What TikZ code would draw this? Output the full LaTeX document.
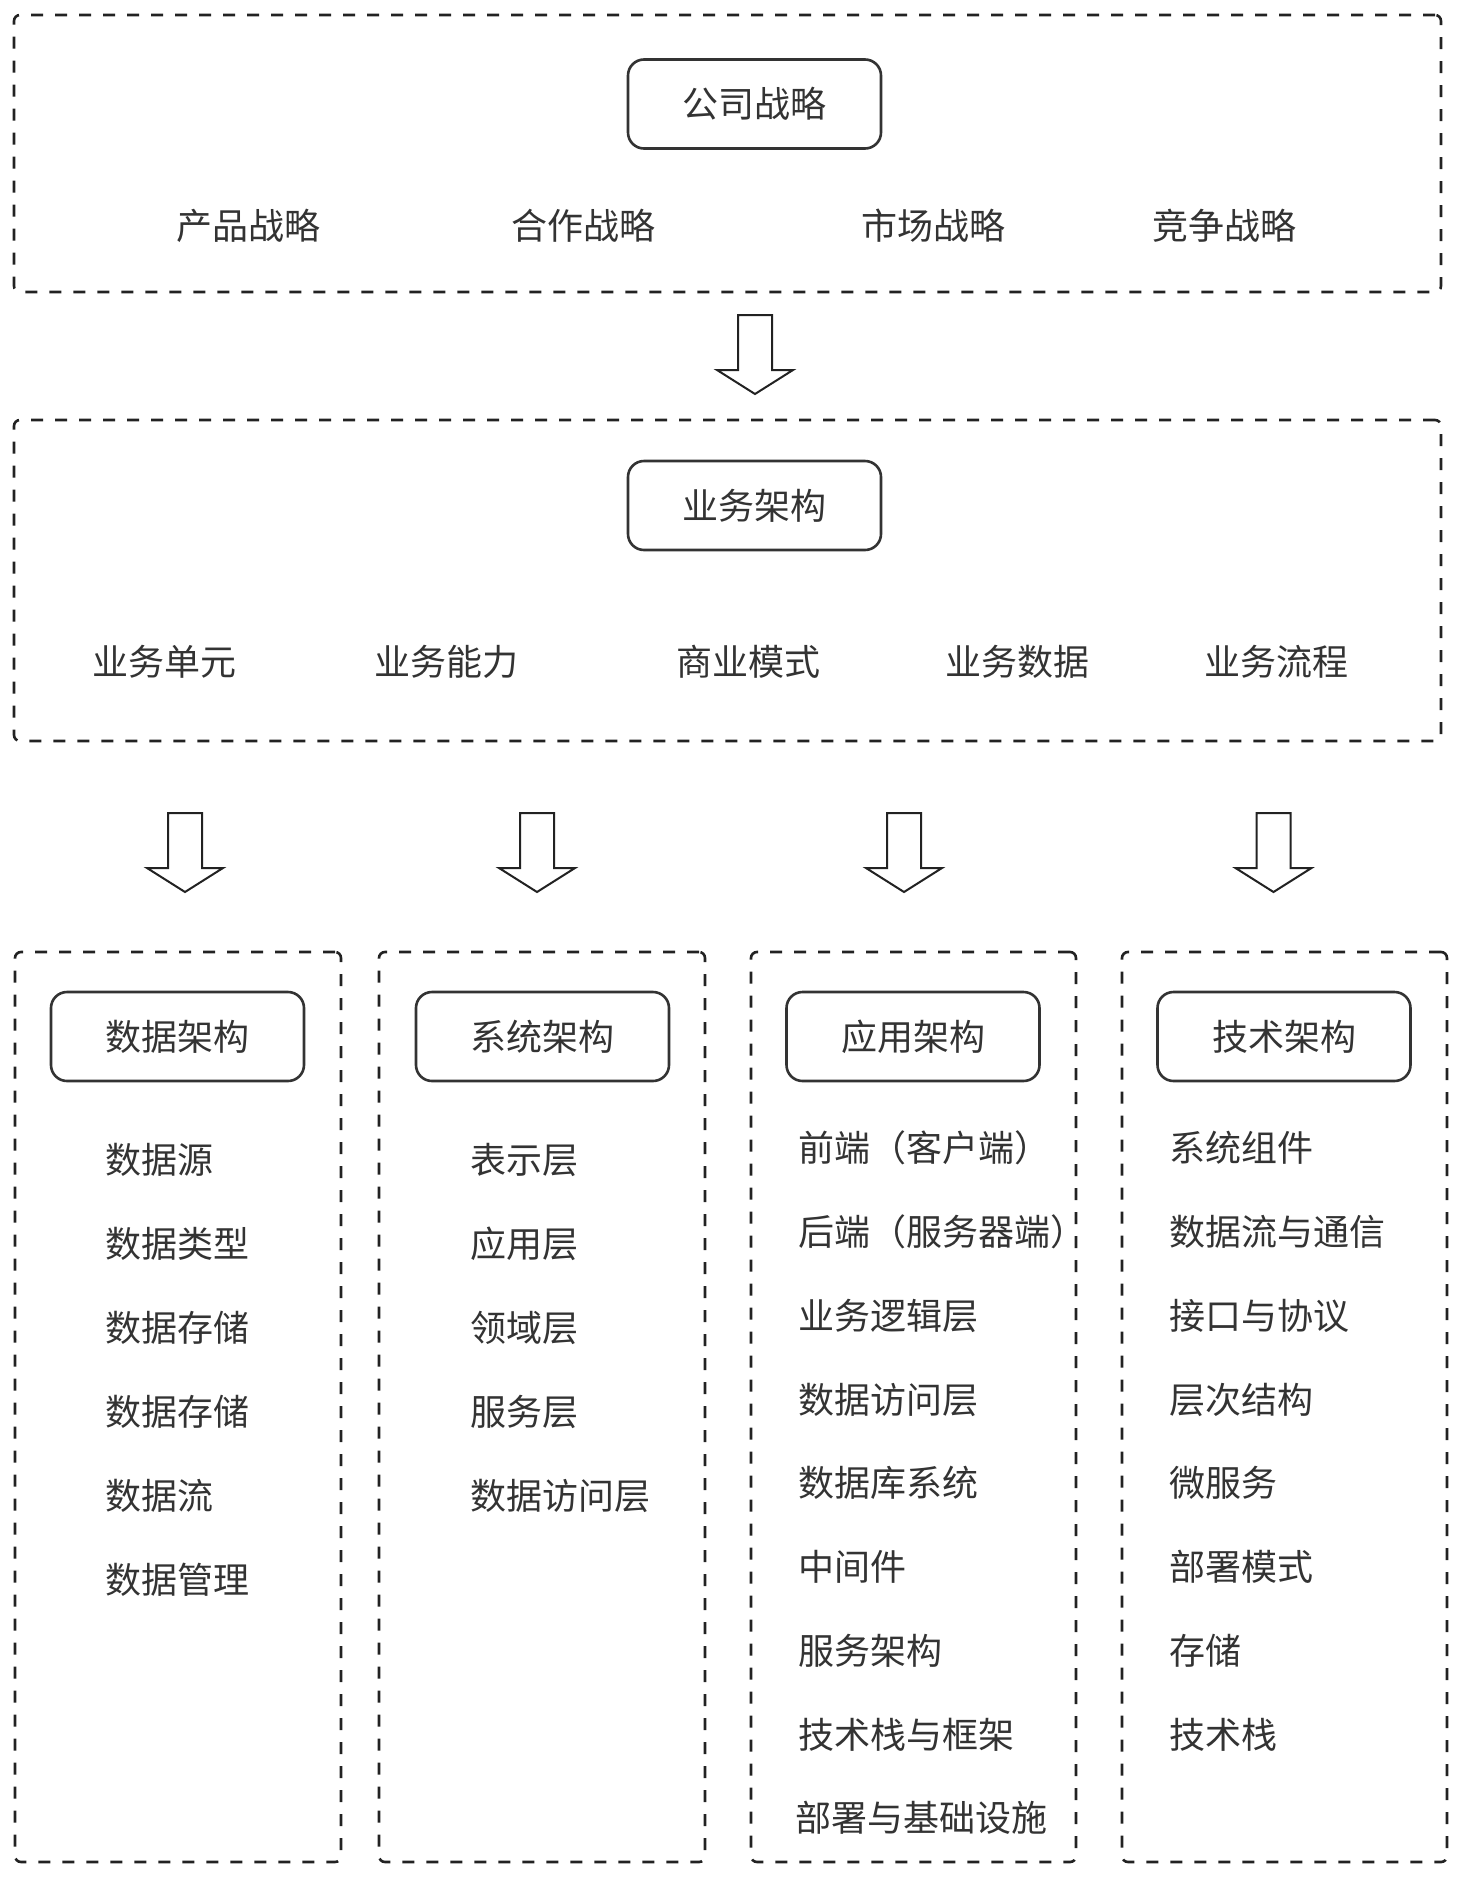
\documentclass[tikz,border=0pt]{standalone}
\usepackage{fontspec}
\setmainfont{Noto Sans CJK SC}
\definecolor{ink}{HTML}{333333}
\definecolor{edge}{HTML}{222222}
\tikzset{
  dashbox/.style={draw=edge, line width=2.6pt, dash pattern=on 12pt off 12pt, rounded corners=6pt, inner sep=0pt},
  titlebox/.style={draw=ink, line width=2.6pt, rounded corners=16pt, minimum width=253pt, minimum height=89pt, inner sep=0pt, text=ink, font=\fontsize{36}{40}\selectfont},
  lbl/.style={text=ink, inner sep=0pt, font=\fontsize{36}{40}\selectfont},
  item/.style={lbl, anchor=west},
  blockarrow/.style={draw=edge, line width=2pt, line join=miter, fill=white}
}
\newcommand{\downblock}[2]{%
  \draw[blockarrow] (#1-17,#2) -- (#1+17,#2) -- (#1+17,#2+55) -- (#1+38,#2+55)
    -- (#1,#2+79) -- (#1-38,#2+55) -- (#1-17,#2+55) -- cycle;}
\begin{document}
\begin{tikzpicture}[x=1pt,y=-1pt]
\fill[white] (0,0) rectangle (1470,1877);
\useasboundingbox (0,0) rectangle (1470,1877);

% ---- top: company strategy
\node[dashbox, minimum width=1427pt, minimum height=277pt] (topbox) at (727.5,153.5) {};
\node[titlebox] (company) at (754.5,104) {公司战略};
\node[lbl] (s1) at (248,226) {产品战略};
\node[lbl] (s2) at (583,226) {合作战略};
\node[lbl] (s3) at (933,226) {市场战略};
\node[lbl] (s4) at (1224,226) {竞争战略};

\downblock{755}{315}

% ---- business architecture
\node[dashbox, minimum width=1427pt, minimum height=321pt] (bizbox) at (727.5,580.5) {};
\node[titlebox] (biz) at (754.5,505.5) {业务架构};
\node[lbl] (b1) at (164,662) {业务单元};
\node[lbl] (b2) at (446,662) {业务能力};
\node[lbl] (b3) at (748,662) {商业模式};
\node[lbl] (b4) at (1017,662) {业务数据};
\node[lbl] (b5) at (1276,662) {业务流程};

\downblock{185}{813}
\downblock{537}{813}
\downblock{904}{813}
\downblock{1273.5}{813}

% ---- columns
\node[dashbox, minimum width=326pt, minimum height=910pt] (col1) at (178,1407) {};
\node[dashbox, minimum width=326pt, minimum height=910pt] (col2) at (542,1407) {};
\node[dashbox, minimum width=325pt, minimum height=910pt] (col3) at (913.5,1407) {};
\node[dashbox, minimum width=325pt, minimum height=910pt] (col4) at (1284.5,1407) {};

\node[titlebox] (data) at (177.5,1036.5) {数据架构};
\node[titlebox] (sys) at (542.5,1036.5) {系统架构};
\node[titlebox] (app) at (913,1036.5) {应用架构};
\node[titlebox] (tech) at (1284,1036.5) {技术架构};

% data architecture
\node[item] (d1) at (105,1160) {数据源};
\node[item] (d2) at (105,1244) {数据类型};
\node[item] (d3) at (105,1328) {数据存储};
\node[item] (d4) at (105,1412) {数据存储};
\node[item] (d5) at (105,1496) {数据流};
\node[item] (d6) at (105,1580) {数据管理};

% system architecture
\node[item] (y1) at (470,1160) {表示层};
\node[item] (y2) at (470,1244) {应用层};
\node[item] (y3) at (470,1328) {领域层};
\node[item] (y4) at (470,1412) {服务层};
\node[item] (y5) at (470,1496) {数据访问层};

% application architecture
\node[item] (a1) at (798,1148) {前端（客户端）};
\node[item] (a2) at (798,1232) {后端（服务器端）};
\node[item] (a3) at (798,1316) {业务逻辑层};
\node[item] (a4) at (798,1400) {数据访问层};
\node[item] (a5) at (798,1483) {数据库系统};
\node[item] (a6) at (798,1567) {中间件};
\node[item] (a7) at (798,1651) {服务架构};
\node[item] (a8) at (798,1735) {技术栈与框架};
\node[item] (a9) at (795,1818) {部署与基础设施};

% technology architecture
\node[item] (t1) at (1169,1148) {系统组件};
\node[item] (t2) at (1169,1232) {数据流与通信};
\node[item] (t3) at (1169,1316) {接口与协议};
\node[item] (t4) at (1169,1400) {层次结构};
\node[item] (t5) at (1169,1483) {微服务};
\node[item] (t6) at (1169,1567) {部署模式};
\node[item] (t7) at (1169,1651) {存储};
\node[item] (t8) at (1169,1735) {技术栈};
\end{tikzpicture}
\end{document}
